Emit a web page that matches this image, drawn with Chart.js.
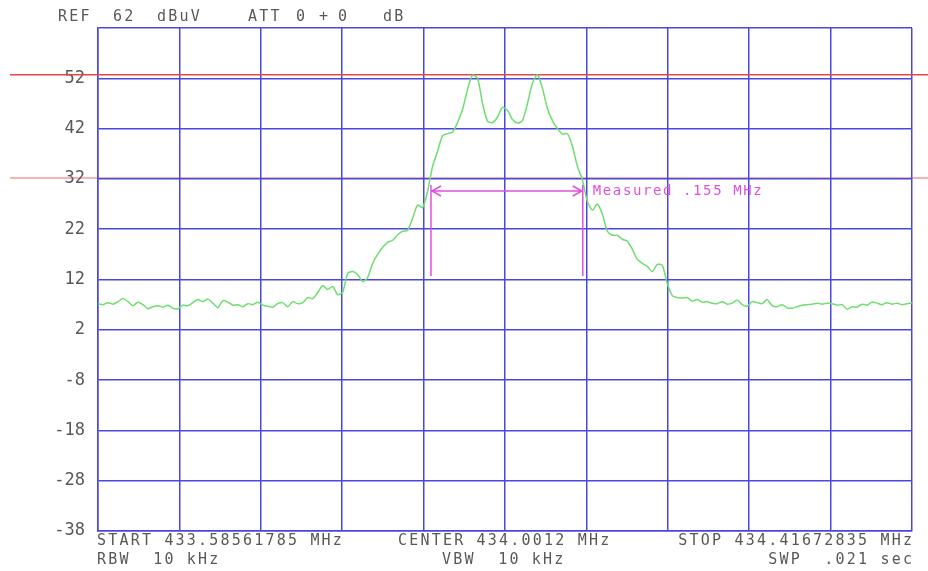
<!DOCTYPE html>
<html>
<head>
<meta charset="utf-8">
<script src="https://cdn.jsdelivr.net/npm/chart.js@4"></script>
<style>
html,body{margin:0;padding:0;background:#fff;}
#c{display:block;}
</style>
</head>
<body>
<canvas id="c" width="928" height="571"></canvas>
<script>
// ---- data ----
const START_MHZ = 433.58561785;
const STOP_MHZ = 434.41672835;
const REF_LEVEL = 62;
const BOTTOM_LEVEL = -38;
const yTickValues = [-38, -28, -18, -8, 2, 12, 22, 32, 42, 52, 62];
const xDivisions = 10;
const traceDbuV = [
  7.2,7.0,7.4,7.1,7.6,8.2,7.6,6.8,7.5,7.0,6.2,6.6,6.8,6.5,6.9,6.3,6.2,6.9,6.8,7.4,8.0,7.6,8.1,7.3,6.4,7.8,7.5,6.9,7.0,6.6,7.2,7.0,7.5,6.9,
  6.7,6.5,7.2,7.4,6.6,7.6,7.2,7.4,8.4,8.2,9.4,10.8,10.0,10.6,9.0,9.5,13.2,13.6,13.0,11.6,12.4,15.2,17.0,18.4,19.4,19.8,20.9,21.6,21.8,24.2,26.8,26.3,29.5,
  34.5,37.5,40.6,41.0,41.3,43.2,45.8,49.8,52.6,52.0,47.0,43.5,43.2,44.3,46.2,45.6,43.8,43.1,43.6,47.0,51.0,52.7,50.0,46.0,43.6,42.0,40.9,41.0,38.5,34.5,31.8,
  27.5,25.8,27.0,25.0,21.6,20.8,20.8,20.0,19.6,18.0,16.0,15.2,14.6,13.6,15.0,14.8,11.2,
  8.8,8.4,8.3,8.4,7.7,8.0,7.5,7.6,7.3,7.2,7.6,7.1,7.3,7.9,7.0,6.7,7.6,7.4,7.2,8.0,6.8,6.6,7.0,6.4,6.3,6.6,6.9,7.0,7.1,7.3,7.1,7.3,7.2,6.9,7.0,6.1,6.6,6.5,7.1,6.9,7.5,7.3,7.0,7.4,7.1,7.3,7.0,7.2,7.4
];
const displayLines = [52.7, 32.2];          // red reference lines (dBuV)
const markerFreqsMHz = [433.9256, 434.0806]; // measurement markers
const markerLevels = [30.8, 12.7, 29.6];     // marker top, bottom, arrow level
const measureText = 'Measured .155 MHz';
const headerTexts = [['REF', 58], ['62', 113], ['dBuV', 157], ['ATT', 248], ['0', 296], ['+', 319], ['0', 338], ['dB', 383]];
const footerRow1 = [['START 433.58561785 MHz', 97, 'left'], ['CENTER 434.0012 MHz', 398, 'left'], ['STOP 434.41672835 MHz', 912, 'right']];
const footerRow2 = [['RBW  10 kHz', 97, 'left'], ['VBW  10 kHz', 442, 'left'], ['SWP  .021 sec', 912, 'right']];

// ---- build ----
const N = traceDbuV.length;
const points = traceDbuV.map((v, i) => ({x: START_MHZ + i * (STOP_MHZ - START_MHZ) / (N - 1), y: v}));
const xTickVals = [];
for (let i = 0; i <= xDivisions; i++) xTickVals.push(START_MHZ + i * (STOP_MHZ - START_MHZ) / xDivisions);

const GRID = 'rgb(72,72,222)';
const TEXT = '#585858';
const MAG = '#e050e0';
const FONT = '"DejaVu Sans Mono", "Liberation Mono", monospace';

const overlay = {
  id: 'overlay',
  beforeDraw(chart) {
    const ctx = chart.ctx, y = chart.scales.y;
    ctx.save();
    ctx.strokeStyle = '#f29a9a';
    ctx.lineWidth = 1.5;
    const py = y.getPixelForValue(displayLines[1]);
    ctx.beginPath(); ctx.moveTo(10, py); ctx.lineTo(928, py); ctx.stroke();
    ctx.restore();
  },
  beforeDatasetsDraw(chart) {
    const ctx = chart.ctx, y = chart.scales.y;
    ctx.save();
    ctx.strokeStyle = 'rgb(228,70,70)';
    ctx.lineWidth = 1.5;
    const py = y.getPixelForValue(displayLines[0]);
    ctx.beginPath(); ctx.moveTo(10, py); ctx.lineTo(928, py); ctx.stroke();
    ctx.restore();
  },
  afterDatasetsDraw(chart) {
    const ctx = chart.ctx, x = chart.scales.x, y = chart.scales.y;
    const x1 = x.getPixelForValue(markerFreqsMHz[0]);
    const x2 = x.getPixelForValue(markerFreqsMHz[1]);
    const yt = y.getPixelForValue(markerLevels[0]);
    const yb = y.getPixelForValue(markerLevels[1]);
    const ya = y.getPixelForValue(markerLevels[2]);
    ctx.save();
    ctx.strokeStyle = MAG;
    ctx.lineWidth = 1.5;
    ctx.beginPath();
    ctx.moveTo(x1, yt); ctx.lineTo(x1, yb);
    ctx.moveTo(x2, yt); ctx.lineTo(x2, yb);
    ctx.moveTo(x1, ya); ctx.lineTo(x2, ya);
    ctx.moveTo(x1 + 10, ya - 5); ctx.lineTo(x1 + 1, ya); ctx.lineTo(x1 + 10, ya + 5);
    ctx.moveTo(x2 - 10, ya - 5); ctx.lineTo(x2 - 1, ya); ctx.lineTo(x2 - 10, ya + 5);
    ctx.stroke();
    ctx.fillStyle = MAG;
    ctx.font = '14px ' + FONT;
    ctx.letterSpacing = '1.6px';
    ctx.textAlign = 'left';
    ctx.textBaseline = 'middle';
    ctx.fillText(measureText, x2 + 10, ya);
    ctx.restore();
  },
  afterDraw(chart) {
    const ctx = chart.ctx;
    ctx.save();
    ctx.fillStyle = TEXT;
    ctx.font = '15px ' + FONT;
    ctx.letterSpacing = '2.2px';
    ctx.textBaseline = 'middle';
    ctx.textAlign = 'left';
    headerTexts.forEach(([t, px]) => ctx.fillText(t, px, 17));
    footerRow1.forEach(([t, px, al]) => { ctx.textAlign = al; ctx.fillText(t, al === 'right' ? px + 2.2 : px, 541); });
    footerRow2.forEach(([t, px, al]) => { ctx.textAlign = al; ctx.fillText(t, al === 'right' ? px + 2.2 : px, 560); });
    ctx.restore();
  }
};

new Chart(document.getElementById('c'), {
  type: 'line',
  data: {
    datasets: [{
      data: points,
      borderColor: 'rgb(110,222,110)',
      borderWidth: 1.5,
      pointRadius: 0,
      tension: 0.25,
      fill: false
    }]
  },
  options: {
    responsive: false,
    devicePixelRatio: 1,
    animation: false,
    events: [],
    layout: {padding: {top: 28, right: 16, left: 0, bottom: 0}},
    plugins: {legend: {display: false}, tooltip: {enabled: false}, title: {display: false}},
    scales: {
      x: {
        type: 'linear',
        min: START_MHZ,
        max: STOP_MHZ,
        afterBuildTicks: (s) => { s.ticks = xTickVals.map(v => ({value: v})); },
        afterFit: (s) => { s.height = 40; },
        ticks: {display: false},
        grid: {color: GRID, lineWidth: 1.5, drawTicks: false},
        border: {color: GRID, width: 1.5}
      },
      y: {
        type: 'linear',
        min: BOTTOM_LEVEL,
        max: REF_LEVEL,
        afterBuildTicks: (s) => { s.ticks = yTickValues.map(v => ({value: v})); },
        afterFit: (s) => { s.width = 98; },
        ticks: {
          color: TEXT,
          padding: 13,
          font: {family: FONT, size: 17},
          callback: (v) => (v === REF_LEVEL ? '' : String(v))
        },
        grid: {color: GRID, lineWidth: 1.5, drawTicks: false},
        border: {color: GRID, width: 1.5}
      }
    }
  },
  plugins: [overlay]
});
</script>
</body>
</html>
